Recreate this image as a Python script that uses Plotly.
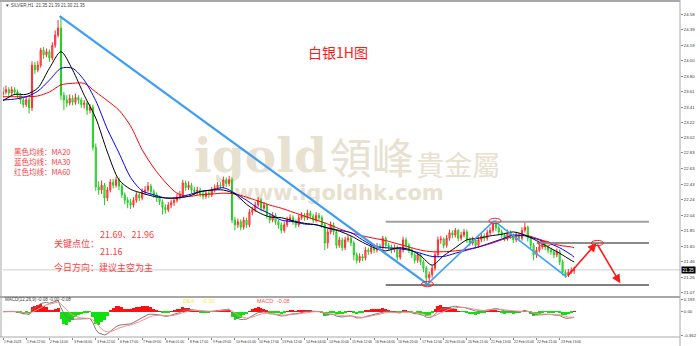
import plotly.graph_objects as go
import pandas as pd

# ---------------- data (2-hour bars) ----------------
closes = [
    23.60, 23.63, 23.59, 23.63, 23.60, 23.56, 23.50, 23.44, 23.50, 23.40,
    23.94, 23.88, 23.94, 24.13, 24.07, 24.11, 24.03, 24.19, 24.32, 24.41,
    23.56, 23.50, 23.46, 23.52, 23.47, 23.53, 23.50, 23.44, 23.46, 23.37,
    23.41, 22.90, 22.40, 22.36, 22.42, 22.26, 22.36, 22.46, 22.42, 22.49,
    22.41, 22.30, 22.23, 22.20, 22.17, 22.23, 22.30, 22.26, 22.34, 22.36,
    22.41, 22.34, 22.30, 22.26, 22.21, 22.14, 22.11, 22.17, 22.20, 22.23,
    22.27, 22.30, 22.45, 22.39, 22.42, 22.36, 22.34, 22.36, 22.31, 22.28,
    22.32, 22.30, 22.36, 22.39, 22.42, 22.41, 22.49, 22.44, 22.49, 21.98,
    21.92, 21.96, 21.89, 21.98, 21.92, 22.08, 22.11, 22.17, 22.23, 22.13,
    22.17, 22.04, 21.98, 22.04, 21.96, 21.92, 21.85, 21.92, 21.98, 22.01,
    21.96, 21.92, 22.01, 22.04, 22.01, 22.07, 22.03, 21.98, 22.04, 22.01,
    21.92, 21.69, 21.83, 21.92, 21.83, 21.66, 21.73, 21.63, 21.73, 21.75,
    21.69, 21.54, 21.47, 21.52, 21.50, 21.60, 21.58, 21.63, 21.60, 21.65,
    21.63, 21.75, 21.66, 21.64, 21.60, 21.63, 21.51, 21.60, 21.73, 21.66,
    21.60, 21.54, 21.47, 21.54, 21.45, 21.37, 21.25, 21.29, 21.37, 21.54,
    21.73, 21.74, 21.66, 21.75, 21.82, 21.79, 21.85, 21.75, 21.79, 21.83,
    21.73, 21.69, 21.73, 21.66, 21.73, 21.78, 21.75, 21.82, 21.85, 21.93,
    21.88, 21.83, 21.79, 21.75, 21.82, 21.78, 21.73, 21.79, 21.75, 21.85,
    21.89, 21.75, 21.66, 21.54, 21.60, 21.64, 21.68, 21.64, 21.60, 21.58,
    21.54, 21.58, 21.45, 21.32, 21.28, 21.32, 21.34, 21.35,
]
highs = [
    23.66, 23.68, 23.66, 23.67, 23.66, 23.63, 23.59, 23.53, 23.54, 23.53,
    23.99, 23.98, 23.99, 24.16, 24.17, 24.15, 24.14, 24.23, 24.38, 24.51,
    24.56, 23.60, 23.56, 23.57, 23.56, 23.58, 23.56, 23.53, 23.50, 23.49,
    23.45, 23.44, 22.95, 22.47, 22.48, 22.45, 22.40, 22.50, 22.50, 22.53,
    22.52, 22.44, 22.33, 22.27, 22.25, 22.27, 22.34, 22.33, 22.38, 22.41,
    22.46, 22.44, 22.37, 22.33, 22.29, 22.24, 22.18, 22.21, 22.24, 22.27,
    22.31, 22.35, 22.49, 22.48, 22.47, 22.45, 22.40, 22.40, 22.39, 22.35,
    22.36, 22.36, 22.40, 22.43, 22.46, 22.46, 22.53, 22.52, 22.54, 22.52,
    22.02, 22.00, 21.99, 22.02, 22.01, 22.12, 22.15, 22.21, 22.27, 22.26,
    22.21, 22.19, 22.07, 22.08, 22.07, 21.99, 21.95, 21.96, 22.02, 22.05,
    22.04, 21.99, 22.05, 22.08, 22.07, 22.11, 22.10, 22.06, 22.08, 22.07,
    22.04, 21.95, 21.87, 21.96, 21.95, 21.86, 21.77, 21.76, 21.77, 21.79,
    21.78, 21.72, 21.57, 21.56, 21.55, 21.64, 21.63, 21.67, 21.66, 21.69,
    21.68, 21.78, 21.77, 21.69, 21.67, 21.67, 21.66, 21.64, 21.77, 21.76,
    21.69, 21.63, 21.57, 21.58, 21.57, 21.48, 21.40, 21.33, 21.41, 21.58,
    21.77, 21.78, 21.76, 21.79, 21.86, 21.85, 21.88, 21.87, 21.83, 21.87,
    21.86, 21.76, 21.77, 21.76, 21.77, 21.82, 21.81, 21.86, 21.89, 21.96,
    21.98, 21.91, 21.86, 21.82, 21.86, 21.85, 21.81, 21.83, 21.82, 21.89,
    21.96, 21.91, 21.78, 21.69, 21.64, 21.68, 21.71, 21.70, 21.67, 21.63,
    21.61, 21.62, 21.61, 21.48, 21.35, 21.36, 21.38, 21.39,
]
lows = [
    23.53, 23.57, 23.55, 23.56, 23.56, 23.52, 23.45, 23.40, 23.41, 23.33,
    23.36, 23.83, 23.85, 23.91, 24.02, 24.04, 23.98, 24.00, 24.16, 24.29,
    23.50, 23.37, 23.41, 23.43, 23.43, 23.44, 23.45, 23.40, 23.39, 23.31,
    23.33, 22.86, 22.35, 22.30, 22.31, 22.17, 22.22, 22.33, 22.38, 22.39,
    22.36, 22.26, 22.18, 22.13, 22.12, 22.14, 22.20, 22.22, 22.23, 22.30,
    22.33, 22.30, 22.26, 22.21, 22.17, 22.05, 22.06, 22.08, 22.13, 22.16,
    22.20, 22.24, 22.27, 22.35, 22.36, 22.32, 22.30, 22.30, 22.27, 22.24,
    22.25, 22.26, 22.27, 22.33, 22.36, 22.37, 22.38, 22.40, 22.41, 21.94,
    21.85, 21.88, 21.85, 21.86, 21.88, 21.89, 22.04, 22.08, 22.14, 22.09,
    22.10, 22.00, 21.94, 21.95, 21.92, 21.87, 21.81, 21.82, 21.89, 21.95,
    21.92, 21.88, 21.89, 21.98, 21.97, 21.98, 21.99, 21.94, 21.95, 21.97,
    21.88, 21.60, 21.62, 21.80, 21.79, 21.62, 21.63, 21.59, 21.60, 21.70,
    21.65, 21.47, 21.43, 21.44, 21.46, 21.47, 21.54, 21.55, 21.56, 21.57,
    21.59, 21.60, 21.62, 21.60, 21.56, 21.57, 21.47, 21.48, 21.57, 21.62,
    21.56, 21.50, 21.43, 21.44, 21.41, 21.32, 21.17, 21.18, 21.25, 21.34,
    21.51, 21.68, 21.62, 21.63, 21.72, 21.75, 21.76, 21.71, 21.72, 21.76,
    21.69, 21.65, 21.66, 21.62, 21.63, 21.70, 21.71, 21.72, 21.79, 21.82,
    21.84, 21.79, 21.75, 21.71, 21.72, 21.74, 21.69, 21.70, 21.71, 21.72,
    21.82, 21.71, 21.62, 21.47, 21.50, 21.57, 21.61, 21.60, 21.56, 21.54,
    21.50, 21.51, 21.41, 21.28, 21.25, 21.26, 21.30, 21.30,
]
first_open = 23.57
opens = [first_open] + closes[:-1]
bars = list(range(len(closes)))

# moving averages (every 4th bar)
ma_idx = [0, 4, 8, 12, 16, 20, 24, 28, 32, 36, 40, 44, 48, 52, 56, 60, 64,
          68, 72, 76, 80, 84, 88, 92, 96, 100, 104, 108, 112, 116, 120, 124,
          128, 132, 136, 140, 144, 148, 152, 156, 160, 164, 168, 172, 176,
          180, 184, 188, 192, 196, 197]
ma20 = [23.49, 23.57, 23.57, 23.65, 23.90, 24.11, 23.88, 23.56, 23.27, 22.84,
        22.49, 22.37, 22.32, 22.28, 22.26, 22.26, 22.28, 22.34, 22.36, 22.36,
        22.31, 22.18, 22.08, 22.02, 22.01, 21.97, 21.94, 21.92, 21.88, 21.84,
        21.78, 21.70, 21.63, 21.59, 21.63, 21.61, 21.53, 21.41, 21.53, 21.63,
        21.73, 21.75, 21.78, 21.80, 21.83, 21.79, 21.72, 21.64, 21.56, 21.47, 21.45]
ma30 = [23.50, 23.51, 23.54, 23.61, 23.75, 23.90, 23.90, 23.75, 23.49, 23.13,
        22.83, 22.52, 22.35, 22.30, 22.26, 22.26, 22.30, 22.34, 22.36, 22.39,
        22.32, 22.23, 22.13, 22.06, 21.98, 21.96, 21.93, 21.92, 21.88, 21.85,
        21.82, 21.73, 21.65, 21.63, 21.62, 21.60, 21.56, 21.52, 21.52, 21.56,
        21.60, 21.64, 21.69, 21.74, 21.79, 21.78, 21.74, 21.69, 21.63, 21.54, 21.51]
ma60 = [23.54, 23.54, 23.54, 23.55, 23.60, 23.69, 23.71, 23.71, 23.60, 23.49,
        23.37, 23.17, 22.87, 22.64, 22.46, 22.32, 22.28, 22.30, 22.31, 22.32,
        22.31, 22.27, 22.22, 22.17, 22.13, 22.08, 22.03, 21.98, 21.93, 21.87,
        21.82, 21.78, 21.75, 21.72, 21.68, 21.64, 21.60, 21.58, 21.58, 21.59,
        21.61, 21.64, 21.68, 21.73, 21.77, 21.79, 21.75, 21.70, 21.66, 21.64, 21.63]

xtick_idx = [0, 8, 16, 24, 32, 40, 48, 56, 64, 72, 80, 88, 96, 104, 112, 120,
             128, 136, 144, 152, 160, 168, 176, 184, 192]
xtick_text = ["1 Feb 2023", "1 Feb 22:00", "2 Feb 14:00", "3 Feb 06:00",
              "3 Feb 22:00", "6 Feb 17:00", "7 Feb 09:00", "8 Feb 01:00",
              "8 Feb 17:00", "9 Feb 09:00", "10 Feb 01:00", "10 Feb 17:00",
              "13 Feb 12:00", "14 Feb 04:00", "14 Feb 20:00", "15 Feb 12:00",
              "16 Feb 04:00", "16 Feb 20:00", "17 Feb 12:00", "20 Feb 05:00",
              "20 Feb 21:00", "21 Feb 13:00", "22 Feb 05:00", "22 Feb 21:00",
              "23 Feb 13:00"]
ytick_vals = [21.07, 21.26, 21.46, 21.65, 21.85, 22.04, 22.24, 22.43, 22.63,
              22.83, 23.02, 23.22, 23.41, 23.61, 23.80, 24.00, 24.19, 24.39, 24.58]
ytick_text = ["21.07", "21.26", "21.46", "21.65", "21.85", "22.04", "22.24",
              "22.43", "22.63", "22.83", "23.02", "23.22", "23.41", "23.61",
              "23.80", "24.00", "24.19", "24.39", "24.58"]

key_levels = [21.96, 21.69, 21.16]
last_price = 21.35

# hand drawings on the chart (bar index, price)
trend_down = [(19.54, 24.56), (146.4, 21.17)]
zigzag = [(146.4, 21.17), (169.35, 21.97), (194.4, 21.26)]
forecast = [(194.4, 21.26), (204.7, 21.69), (212.9, 21.18)]
marks = [(146.4, 21.17), (169.7, 21.97), (186.8, 21.68), (205.0, 21.69)]
level_spans = [(132.0, 222.8), (184.1, 222.8), (132.0, 222.8)]

# ---------------- indicators ----------------
s = pd.Series(closes)
dif = s.ewm(span=6, adjust=False).mean() - s.ewm(span=13, adjust=False).mean()
dea = dif.ewm(span=5, adjust=False).mean()
hist = 2 * (dif - dea)

# MACD panel scale: zero line 14.7 px below the panel top, deepest DIF 23.3 px below zero
unit = -float(dif.min()) / 23.3
macd_range = [-25.3 * unit, 14.7 * unit]
macd_tick_vals = [12.4 * unit, 0.0, -23.3 * unit]
macd_tick_text = [f"{12.4 * unit:.3f}", "0.00", f"{-23.3 * unit:.3f}"]

# ---------------- figure geometry ----------------
W, H = 700, 346
L, R, T, B = 3, 16, 3, 9
PW, PH = W - L - R, H - T - B
split = 40 / PH
XR = [0, 233.5]
YR = [21.007, 24.726]


def pxx(x):
    return (x - L) / PW


def pyy(y):
    return (H - B - y) / PH


CJK = "Noto Sans CJK SC"
RED_TXT = "#ff4040"
SMALL = "Liberation Sans"

fig = go.Figure()

# watermark on the base (pixel-space) subplot, drawn under the candles
wm_color = "#e8e1d0"
fig.add_trace(go.Scatter(x=[262], y=[160], mode="text", text=["igold"],
                         textfont=dict(family="DejaVu Serif", size=47, color=wm_color, weight="bold"),
                         xaxis="x", yaxis="y", hoverinfo="skip", showlegend=False))
fig.add_trace(go.Scatter(x=[374], y=[163], mode="text", text=["領峰"],
                         textfont=dict(family="Noto Sans CJK TC", size=42, color=wm_color),
                         xaxis="x", yaxis="y", hoverinfo="skip", showlegend=False))
fig.add_trace(go.Scatter(x=[461], y=[169], mode="text", text=["貴金屬"],
                         textfont=dict(family="Noto Sans CJK TC", size=28, color=wm_color),
                         xaxis="x", yaxis="y", hoverinfo="skip", showlegend=False))
fig.add_trace(go.Scatter(x=[341], y=[195], mode="text", text=["www.igoldhk.com"],
                         textfont=dict(family="DejaVu Sans", size=21, color=wm_color, weight="bold"),
                         xaxis="x", yaxis="y", hoverinfo="skip", showlegend=False))

# candles
fig.add_trace(go.Candlestick(
    x=bars, open=opens, high=highs, low=lows, close=closes,
    xaxis="x3", yaxis="y3", whiskerwidth=0,
    increasing=dict(line=dict(color="#ff2d2d", width=1), fillcolor="#ff8a8a"),
    decreasing=dict(line=dict(color="#22cc22", width=1), fillcolor="#8cf08c"),
    hoverinfo="skip", showlegend=False))

for vals, col in [(ma60, "#ff0000"), (ma30, "#0000ff"), (ma20, "#000000")]:
    fig.add_trace(go.Scatter(x=ma_idx, y=vals, mode="lines", xaxis="x3", yaxis="y3",
                             line=dict(color=col, width=1, shape="spline", smoothing=0.8),
                             hoverinfo="skip", showlegend=False))

# MACD panel
fig.add_trace(go.Bar(x=bars, y=hist, xaxis="x2", yaxis="y2",
                     marker=dict(color=["#ff1010" if v >= 0 else "#10e010" for v in hist],
                                 line=dict(width=0)),
                     hoverinfo="skip", showlegend=False))
fig.add_trace(go.Scatter(x=bars, y=dif, mode="lines", xaxis="x2", yaxis="y2",
                         line=dict(color="#7a7a7a", width=1), hoverinfo="skip", showlegend=False))
fig.add_trace(go.Scatter(x=bars, y=dea, mode="lines", xaxis="x2", yaxis="y2",
                         line=dict(color="#ff8c8c", width=1), hoverinfo="skip", showlegend=False))

# ---------------- shapes ----------------
shapes = []
lvl_colors = ["#a0a0a0", "#8c8c8c", "#555555"]
lvl_widths = [2, 2, 1.5]
for lv, (a, b), c, w in zip(key_levels, level_spans, lvl_colors, lvl_widths):
    shapes.append(dict(type="line", xref="x3", yref="y3", x0=a, x1=b, y0=lv, y1=lv,
                       line=dict(color=c, width=w), layer="above"))
shapes.append(dict(type="line", xref="paper", yref="y3", x0=0, x1=1, y0=last_price,
                   y1=last_price, line=dict(color="#cfcfcf", width=1), layer="below"))
(x0, y0), (x1, y1) = trend_down
shapes.append(dict(type="line", xref="x3", yref="y3", x0=x0, y0=y0, x1=x1, y1=y1,
                   line=dict(color="#3d9df5", width=2.2)))
for (a0, b0), (a1, b1) in zip(zigzag[:-1], zigzag[1:]):
    shapes.append(dict(type="line", xref="x3", yref="y3", x0=a0, y0=b0, x1=a1, y1=b1,
                       line=dict(color="#3da2ff", width=1.6)))
for mx, my in marks:
    shapes.append(dict(type="circle", xref="x3", yref="y3", xsizemode="pixel", ysizemode="pixel",
                       xanchor=mx, yanchor=my, x0=-6, x1=6, y0=-2.6, y1=2.6,
                       line=dict(color="#ff2020", width=1)))
# frame
frame = "#a8a8a8"
shapes += [
    dict(type="line", xref="paper", yref="paper", x0=-L / PW, x1=1, y0=1 + 2 / PH, y1=1 + 2 / PH,
         line=dict(color=frame, width=2)),
    dict(type="line", xref="paper", yref="paper", x0=-2 / PW, x1=-2 / PW, y0=0, y1=1 + 2 / PH,
         line=dict(color=frame, width=1)),
    dict(type="line", xref="paper", yref="paper", x0=-L / PW, x1=1, y0=split, y1=split,
         line=dict(color=frame, width=2)),
    dict(type="line", xref="paper", yref="paper", x0=-L / PW, x1=1, y0=0, y1=0,
         line=dict(color=frame, width=1)),
    dict(type="line", xref="paper", yref="paper", x0=1, x1=1, y0=-B / PH, y1=1 + 3 / PH,
         line=dict(color=frame, width=1)),
]

# ---------------- annotations ----------------
anns = []


def ann(text, x, y, size, color, family=CJK, xanchor="left", yanchor="middle"):
    anns.append(dict(text=text, x=pxx(x), y=pyy(y), xref="paper", yref="paper",
                     showarrow=False, xanchor=xanchor, yanchor=yanchor, align="left",
                     font=dict(size=size, color=color, family=family)))


ann("▼ SILVER,H1  21.35 21.39 21.30 21.35", 3, 5, 4.5, "#444444", SMALL)
ann("白银1H图", 340, 52, 14, "#ff1a1a", CJK, "center")
ann("黑色均线：MA20<br>蓝色均线：MA30<br>红色均线：MA60", 12, 161.5, 7.5, RED_TXT)
ann("21.69、21.96", 99, 235, 9, RED_TXT)
ann("关键点位：", 52, 243, 9, RED_TXT)
ann("21.16", 99, 251, 9, RED_TXT)
ann("今日方向：建议主空为主", 52, 267, 9, RED_TXT)
ann("MACD(12,26,9) -0.08 -0.00 -0.08", 3, 299.5, 4.5, "#444444", SMALL)
ann("DEA:", 182, 301, 5.5, "#eeee30", SMALL)
ann("-0.00", 201, 301, 5.5, "#eeee30", SMALL)
ann("MACD:", 256, 301, 5.5, "#ff5050", SMALL)
ann("-0.08", 277, 301, 5.5, "#ff5050", SMALL)

for ti, tt in zip(xtick_idx, xtick_text):
    anns.append(dict(text=tt, x=ti, y=pyy(341.5), xref="x2", yref="paper", showarrow=False,
                     xanchor="left", yanchor="middle", xshift=-1,
                     font=dict(size=3.4, color="#333333", family=SMALL)))

anns.append(dict(text=f"{last_price:.2f}", x=1, y=last_price, xref="paper", yref="y3",
                 showarrow=False, xanchor="left", yanchor="middle", xshift=1,
                 bgcolor="#000000", borderpad=0.5,
                 font=dict(size=4.5, color="#ffffff", family=SMALL)))

# red forecast arrows
for (a0, b0), (a1, b1) in zip(forecast[:-1], forecast[1:]):
    anns.append(dict(x=a1, y=b1, ax=a0, ay=b0, xref="x3", yref="y3", axref="x3", ayref="y3",
                     text="", showarrow=True, arrowhead=2, arrowsize=1.1, arrowwidth=1.6,
                     arrowcolor="#ff1a1a", standoff=0))

tickfont = dict(size=4.3, color="#333333", family=SMALL)
fig.update_layout(
    width=W, height=H, margin=dict(l=L, r=R, t=T, b=B),
    paper_bgcolor="#ffffff", plot_bgcolor="#ffffff",
    showlegend=False, bargap=0, boxgap=0.45,
    xaxis=dict(domain=[0, 1], range=[L, W - R], visible=False, anchor="y", fixedrange=True),
    yaxis=dict(domain=[split, 1], range=[H - B - 40, T], visible=False, anchor="x", fixedrange=True),
    xaxis3=dict(overlaying="x", range=XR, visible=False, anchor="y3",
                rangeslider=dict(visible=False)),
    yaxis3=dict(overlaying="y", range=YR, side="right", anchor="x3",
                tickvals=ytick_vals, ticktext=ytick_text, tickfont=tickfont,
                ticks="outside", ticklen=2, tickcolor="#888888",
                showgrid=False, zeroline=False, showline=False),
    xaxis2=dict(domain=[0, 1], range=XR, anchor="y2", tickvals=xtick_idx,
                showticklabels=False, ticks="outside", ticklen=2, tickcolor="#888888",
                showgrid=False, zeroline=False, showline=False),
    yaxis2=dict(domain=[0, split], range=macd_range, side="right", anchor="x2",
                tickvals=macd_tick_vals, ticktext=macd_tick_text, tickfont=tickfont,
                ticks="outside", ticklen=2, tickcolor="#888888",
                showgrid=False, zeroline=False, showline=False),
    shapes=shapes, annotations=anns,
)

fig.write_html("out.html")
